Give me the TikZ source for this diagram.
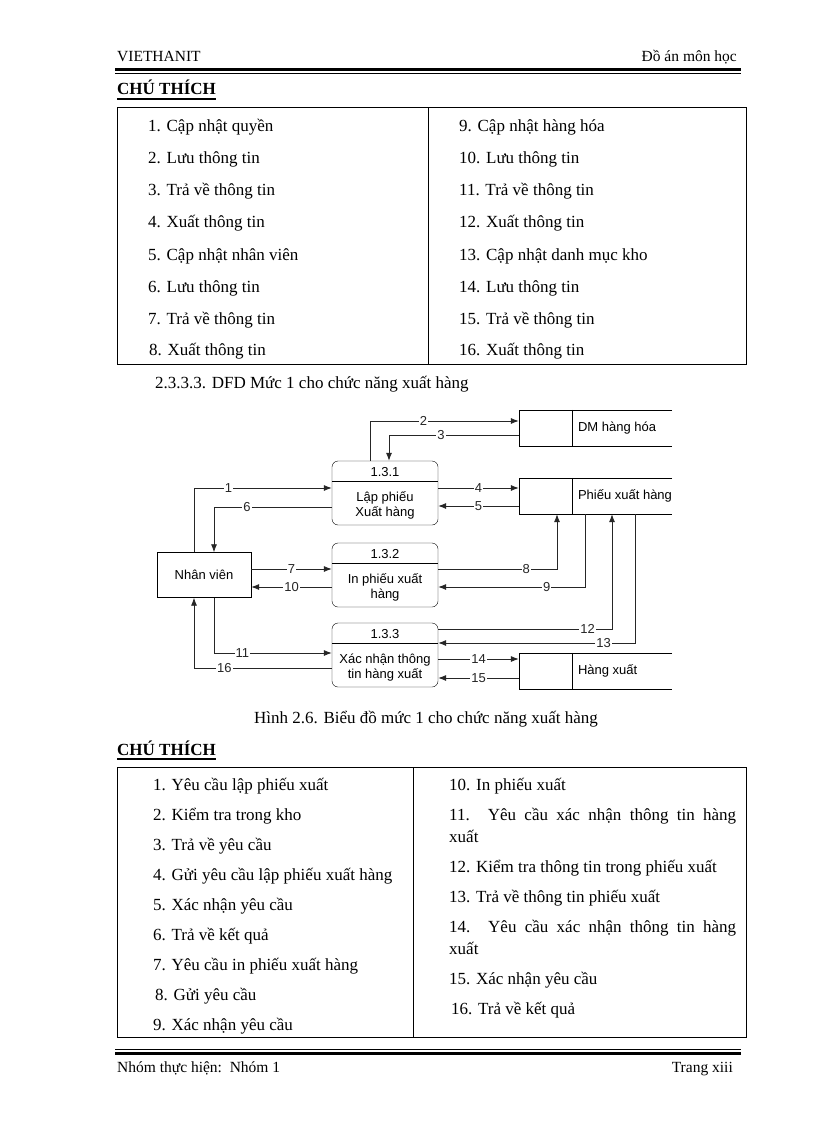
\documentclass[tikz,border=0pt]{standalone}
\usepackage{fontspec}
\setmainfont{Liberation Serif}
\newfontfamily\diagfont{Liberation Sans}
\usetikzlibrary{arrows.meta}
\newcommand\txtsize{\fontsize{17}{20}\selectfont}
\newcommand\hdrsize{\fontsize{15.5}{18}\selectfont}
\newcommand\dfdsize{\diagfont\fontsize{13}{15}\selectfont}

\begin{document}
\begin{tikzpicture}[
        x=1pt, y=-1pt,
        item/.style={anchor=base west, inner sep=0pt, font=\txtsize},
        hdr/.style={inner sep=0pt, font=\hdrsize},
        proc/.style={draw, rounded corners=6pt, minimum width=106pt, minimum height=64pt, align=center, inner sep=0pt, font=\dfdsize},
        store/.style={minimum width=153pt, minimum height=36pt, inner sep=0pt, font=\dfdsize},
        ent/.style={draw, minimum width=94pt, minimum height=45pt, font=\dfdsize},
        lbl/.style={fill=white, inner sep=1pt, font=\dfdsize},
        flow/.style={->, line width=0.8pt, black!85},
        >={Latex[length=8pt, width=6pt]}
    ]
        \useasboundingbox[fill=white] (0,0) rectangle (816,1123);

        % Page header
        \node[hdr, anchor=base west] (head) at (117,62) {VIETHANIT};
        \node[hdr, anchor=base east] (headr) at (737,62) {Đồ án môn học};
        \draw[line width=3pt] (115,69.5) -- (741,69.5);
        \draw[line width=0.8pt] (115,73) -- (741,73);

        % First legend
        \node[item, font=\txtsize\bfseries] (ct1) at (117,95) {CHÚ THÍCH};
        \draw[line width=1.6pt] ([yshift=-4pt]ct1.base west) -- ([yshift=-4pt]ct1.base east);
        \draw[line width=1pt] (117,108) rectangle (746,364);
        \draw[line width=1pt] (428,108) -- (428,364);
        \node[item] (ka1) at (148,132) {1. Cập nhật quyền};
        \node[item] (ka2) at (148,164) {2. Lưu thông tin};
        \node[item] (ka3) at (148,196) {3. Trả về thông tin};
        \node[item] (ka4) at (148,228) {4. Xuất thông tin};
        \node[item] (ka5) at (148,260) {5. Cập nhật nhân viên};
        \node[item] (ka6) at (148,292) {6. Lưu thông tin};
        \node[item] (ka7) at (148,324) {7. Trả về thông tin};
        \node[item] (ka8) at (149,355) {8. Xuất thông tin};
        \node[item] (ka9) at (459,132) {9. Cập nhật hàng hóa};
        \node[item] (ka10) at (459,164) {10. Lưu thông tin};
        \node[item] (ka11) at (459,196) {11. Trả về thông tin};
        \node[item] (ka12) at (459,228) {12. Xuất thông tin};
        \node[item] (ka13) at (459,260) {13. Cập nhật danh mục kho};
        \node[item] (ka14) at (459,292) {14. Lưu thông tin};
        \node[item] (ka15) at (459,324) {15. Trả về thông tin};
        \node[item] (ka16) at (459,355) {16. Xuất thông tin};

        \node[item] (sec) at (155,388) {2.3.3.3. DFD Mức 1 cho chức năng xuất hàng};

        % External entity and processes
        \node[ent] (nv) at (204,575) {Nhân viên};
        \node[proc] (p131) at (385,493) {1.3.1\\[10pt]Lập phiếu\\Xuất hàng};
        \node[proc] (p132) at (385,575) {1.3.2\\[10pt]In phiếu xuất\\hàng};
        \node[proc] (p133) at (385,655) {1.3.3\\[10pt]Xác nhận thông\\tin hàng xuất};
        \draw ([yshift=11.5pt]p131.west) -- ([yshift=11.5pt]p131.east);
        \draw ([yshift=11.5pt]p132.west) -- ([yshift=11.5pt]p132.east);
        \draw ([yshift=11.5pt]p133.west) -- ([yshift=11.5pt]p133.east);

        % Data stores
        \node[store] (dm) at (595.5,428) {\makebox[153pt][l]{\hspace{59pt}DM hàng hóa}};
        \node[store] (pxh) at (595.5,496) {\makebox[153pt][l]{\hspace{59pt}Phiếu xuất hàng}};
        \node[store] (hx) at (595.5,671) {\makebox[153pt][l]{\hspace{59pt}Hàng xuất}};
        \draw (dm.north east) -- (dm.north west) -- (dm.south west) -- (dm.south east);
        \draw ([xshift=53pt]dm.north west) -- ([xshift=53pt]dm.south west);
        \draw (pxh.north east) -- (pxh.north west) -- (pxh.south west) -- (pxh.south east);
        \draw ([xshift=53pt]pxh.north west) -- ([xshift=53pt]pxh.south west);
        \draw (hx.north east) -- (hx.north west) -- (hx.south west) -- (hx.south east);
        \draw ([xshift=53pt]hx.north west) -- ([xshift=53pt]hx.south west);

        % Flows of 1.3.1
        \draw[flow] ([xshift=-10pt]nv.north) |- node[lbl, pos=0.625] {1} ([yshift=5pt]p131.west);
        \draw[flow] ([xshift=-15pt]p131.north) |- node[lbl, pos=0.68] {2} ([yshift=7pt]dm.west);
        \draw[flow] ([yshift=-7pt]dm.west) -| node[lbl, pos=0.30] {3} ([xshift=4pt]p131.north);
        \draw[flow] ([yshift=5pt]p131.east) -- node[lbl] {4} ([yshift=8pt]pxh.west);
        \draw[flow] ([yshift=-10pt]pxh.west) -- node[lbl] {5} ([yshift=-13pt]p131.east);
        \draw[flow] ([yshift=-14pt]p131.west) -| node[lbl, pos=0.36] {6} ([xshift=10pt]nv.north);

        % Flows of 1.3.2
        \draw[flow] ([yshift=6pt]nv.east) -- node[lbl] {7} ([yshift=6pt]p132.west);
        \draw[flow] ([yshift=6pt]p132.east) -| node[lbl, pos=0.37] {8} ([xshift=-38.5pt]pxh.south);
        \draw[flow] ([xshift=-10.5pt]pxh.south) |- node[lbl, pos=0.63] {9} ([yshift=-12pt]p132.east);
        \draw[flow] ([yshift=-12pt]p132.west) -- node[lbl] {10} ([yshift=-12pt]nv.east);

        % Flows of 1.3.3
        \draw[flow] ([xshift=10pt]nv.south) |- node[lbl, pos=0.62] {11} ([yshift=2pt]p133.west);
        \draw[flow] ([yshift=26pt]p133.east) -| node[lbl, pos=0.43] {12} ([xshift=16.5pt]pxh.south);
        \draw[flow] ([xshift=39.5pt]pxh.south) |- node[lbl, pos=0.58] {13} ([yshift=12pt]p133.east);
        \draw[flow] ([yshift=-4pt]p133.east) -- node[lbl] {14} ([yshift=12pt]hx.west);
        \draw[flow] ([yshift=-7pt]hx.west) -- node[lbl] {15} ([yshift=-23pt]p133.east);
        \draw[flow] ([yshift=-13pt]p133.west) -| node[lbl, pos=0.39] {16} ([xshift=-10pt]nv.south);

        \node[item, anchor=base] (fig) at (426,723) {Hình 2.6. Biểu đồ mức 1 cho chức năng xuất hàng};

        % Second legend
        \node[item, font=\txtsize\bfseries] (ct2) at (117,755) {CHÚ THÍCH};
        \draw[line width=1.6pt] ([yshift=-4pt]ct2.base west) -- ([yshift=-4pt]ct2.base east);
        \draw[line width=1pt] (117,767) rectangle (746,1037);
        \draw[line width=1pt] (413,767) -- (413,1037);
        \node[item] (kb1) at (153,790) {1. Yêu cầu lập phiếu xuất};
        \node[item] (kb2) at (153,820) {2. Kiểm tra trong kho};
        \node[item] (kb3) at (153,850) {3. Trả về yêu cầu};
        \node[item] (kb4) at (153,880) {4. Gửi yêu cầu lập phiếu xuất hàng};
        \node[item] (kb5) at (153,910) {5. Xác nhận yêu cầu};
        \node[item] (kb6) at (153,940) {6. Trả về kết quả};
        \node[item] (kb7) at (153,970) {7. Yêu cầu in phiếu xuất hàng};
        \node[item] (kb8) at (155,1000) {8. Gửi yêu cầu};
        \node[item] (kb9) at (153,1030) {9. Xác nhận yêu cầu};
        \node[item] (kb10) at (449,790) {10. In phiếu xuất};
        \node[item] (kb11) at (449,820) {\makebox[287pt][s]{11. Yêu cầu xác nhận thông tin hàng}};
        \node[item] (kb11b) at (449,842) {xuất};
        \node[item] (kb12) at (449,872) {12. Kiểm tra thông tin trong phiếu xuất};
        \node[item] (kb13) at (449,902) {13. Trả về thông tin phiếu xuất};
        \node[item] (kb14) at (449,932) {\makebox[287pt][s]{14. Yêu cầu xác nhận thông tin hàng}};
        \node[item] (kb14b) at (449,954) {xuất};
        \node[item] (kb15) at (449,984) {15. Xác nhận yêu cầu};
        \node[item] (kb16) at (451,1014) {16. Trả về kết quả};

        % Page footer
        \draw[line width=0.8pt] (115,1049.5) -- (741,1049.5);
        \draw[line width=3pt] (115,1053.5) -- (741,1053.5);
        \node[hdr, anchor=base west] (foot) at (117,1072) {Nhóm thực hiện:\ \ Nhóm 1};
        \node[hdr, anchor=base east] (footr) at (733,1072) {Trang xiii};
    \end{tikzpicture}
\end{document}
